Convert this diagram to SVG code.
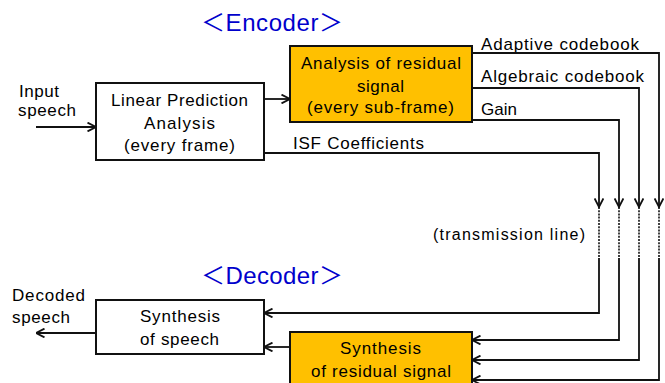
<svg xmlns="http://www.w3.org/2000/svg" width="665" height="383" viewBox="0 0 665 383">
  <style>
    .box { fill: #ffffff; stroke: #111111; stroke-width: 2; }
    .hot { fill: #ffc000; stroke: #111111; stroke-width: 2; }
    .t { font-family: "Liberation Sans", Arial, sans-serif; font-size: 17px; fill: #000000; }
    .h { font-family: "Liberation Sans", Arial, "Noto Sans CJK JP", sans-serif; font-size: 24px; fill: #0000cc; }
    .ln { fill: none; stroke: #111111; stroke-width: 1.8; }
    .dash { fill: none; stroke: #111111; stroke-width: 1.6; stroke-dasharray: 2 1.2; }
  </style>
  <defs>
    <marker id="arr" markerUnits="userSpaceOnUse" viewBox="0 0 10 10" refX="9.5" refY="5" markerWidth="10" markerHeight="10" orient="auto">
      <path d="M1,0.6 L9.5,5 L1,9.4" fill="none" stroke="#111111" stroke-width="1.8"/>
    </marker>
  </defs>
  <rect width="665" height="383" fill="#ffffff"/>

  <!-- section headings -->
  <text class="h" x="201" y="31" textLength="142" lengthAdjust="spacing">＜Encoder＞</text>
  <text class="h" x="201" y="284" textLength="142" lengthAdjust="spacing">＜Decoder＞</text>

  <!-- free labels -->
  <text class="t" x="19" y="97" textLength="40">Input</text>
  <text class="t" x="18" y="116" textLength="58">speech</text>
  <text class="t" x="481" y="50" textLength="158">Adaptive codebook</text>
  <text class="t" x="481" y="82" textLength="163">Algebraic codebook</text>
  <text class="t" x="481" y="115" textLength="36">Gain</text>
  <text class="t" x="293" y="149" textLength="131">ISF Coefficients</text>
  <text class="t" x="433" y="240" textLength="152" style="font-size:16px">(transmission line)</text>
  <text class="t" x="12" y="301" textLength="73">Decoded</text>
  <text class="t" x="12" y="323" textLength="58">speech</text>

  <g id="connectors">
    <!-- encoder side -->
    <line class="ln" x1="36" y1="127" x2="96" y2="127" marker-end="url(#arr)"/>
    <line class="ln" x1="264" y1="99" x2="290" y2="99" marker-end="url(#arr)"/>
    <polyline class="ln" points="472,53 659,53 659,207" marker-end="url(#arr)"/>
    <polyline class="ln" points="472,88 639,88 639,207" marker-end="url(#arr)"/>
    <polyline class="ln" points="472,120 619,120 619,207" marker-end="url(#arr)"/>
    <polyline class="ln" points="264,153 599,153 599,207" marker-end="url(#arr)"/>
    <!-- transmission line -->
    <line class="dash" x1="599" y1="207" x2="599" y2="258"/>
    <line class="dash" x1="619" y1="207" x2="619" y2="258"/>
    <line class="dash" x1="639" y1="207" x2="639" y2="258"/>
    <line class="dash" x1="659" y1="207" x2="659" y2="258"/>
    <!-- decoder side -->
    <polyline class="ln" points="599,258 599,313 264,313" marker-end="url(#arr)"/>
    <polyline class="ln" points="619,258 619,340 472,340" marker-end="url(#arr)"/>
    <polyline class="ln" points="639,258 639,360 472,360" marker-end="url(#arr)"/>
    <polyline class="ln" points="659,258 659,380 472,380" marker-end="url(#arr)"/>
    <line class="ln" x1="290" y1="347" x2="264" y2="347" marker-end="url(#arr)"/>
    <line class="ln" x1="96" y1="333" x2="36" y2="333" marker-end="url(#arr)"/>
  </g>

  <g id="lp-analysis">
    <rect class="box" x="96" y="83" width="168" height="77"/>
    <text class="t" x="111" y="106" textLength="137">Linear Prediction</text>
    <text class="t" x="144" y="129" textLength="71">Analysis</text>
    <text class="t" x="124" y="151" textLength="111">(every frame)</text>
  </g>

  <g id="residual-analysis">
    <rect class="hot" x="290" y="46" width="182" height="76"/>
    <text class="t" x="301" y="69" textLength="160">Analysis of residual</text>
    <text class="t" x="357" y="91.5" textLength="47">signal</text>
    <text class="t" x="307" y="113" textLength="147">(every sub-frame)</text>
  </g>

  <g id="speech-synthesis">
    <rect class="box" x="96" y="300" width="168" height="54"/>
    <text class="t" x="140" y="322" textLength="80">Synthesis</text>
    <text class="t" x="140" y="345" textLength="79">of speech</text>
  </g>

  <g id="residual-synthesis">
    <rect class="hot" x="290" y="332" width="182" height="60"/>
    <text class="t" x="340" y="354" textLength="81">Synthesis</text>
    <text class="t" x="311" y="377" textLength="140">of residual signal</text>
  </g>
</svg>
